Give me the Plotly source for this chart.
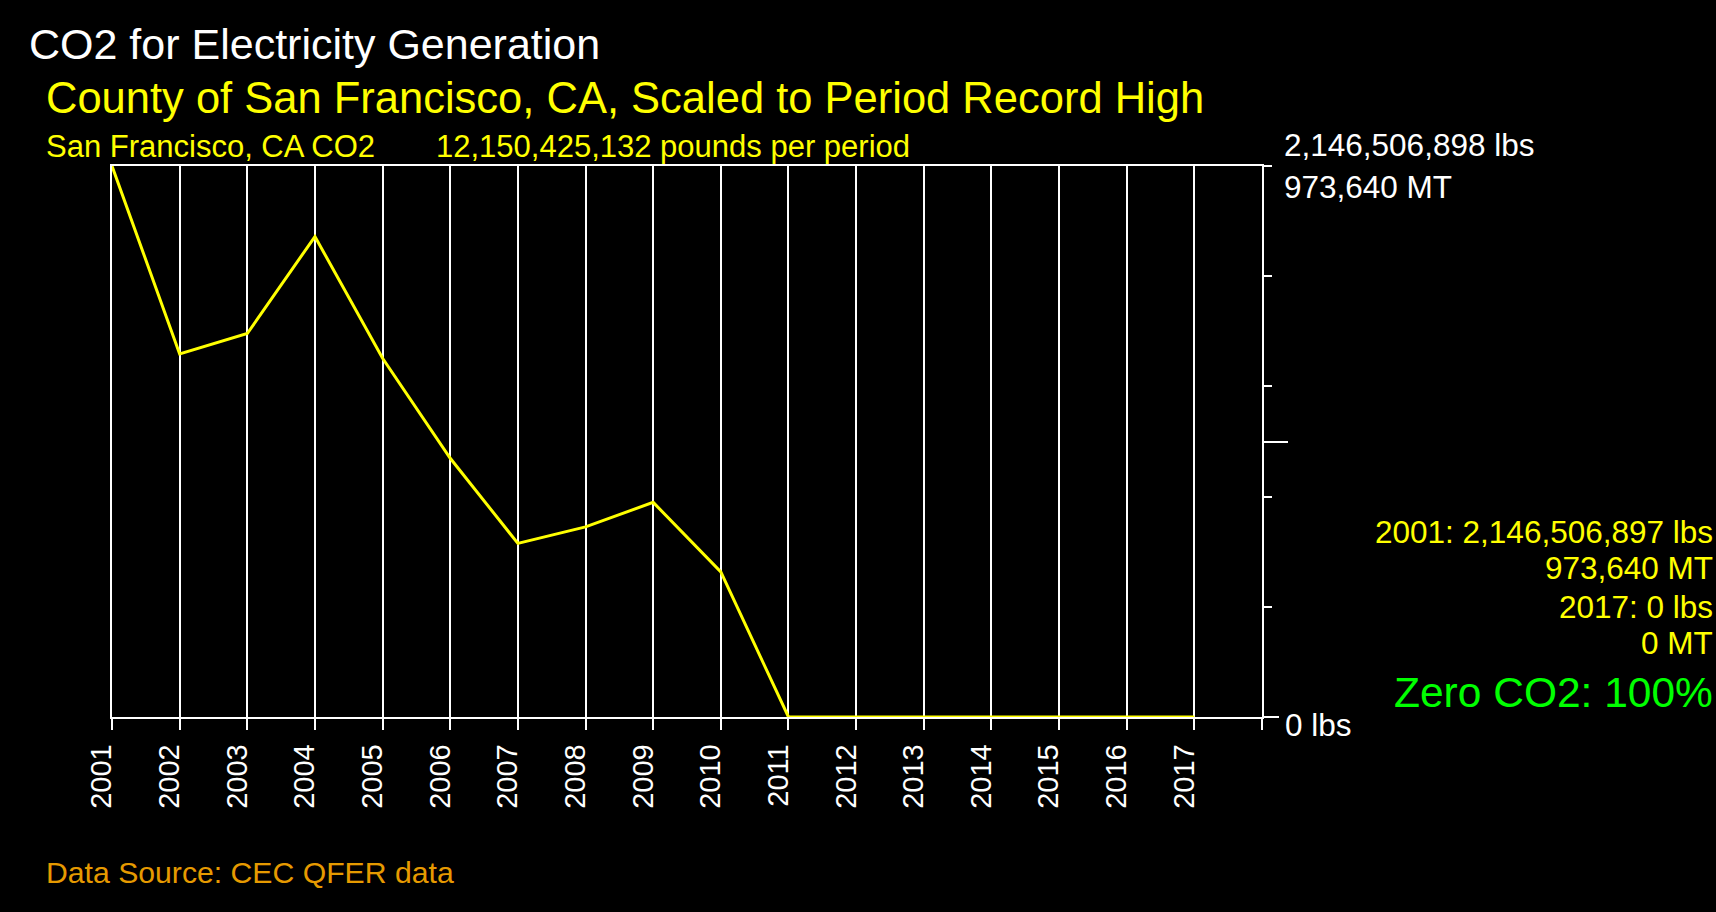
import plotly.graph_objects as go

# ---- data ----
years = list(range(2001, 2018))
co2_lbs = [2146506897, 1414500000, 1494000000, 1871800000, 1397400000,
           1007800000, 676200000, 740500000, 836300000, 565418235,
           0, 0, 0, 0, 0, 0, 0]
scale_max_lbs = 2146506898
minor_tick_fracs = [0.2, 0.4, 0.6, 0.8, 1.0]
mid_tick_frac = [0.5]
place = "San Francisco, CA"
county_title = "County of San Francisco, CA, Scaled to Period Record High"
LBS_PER_MT = 2204.62

W, H = 1716, 912
L, R, T, B = 112, 1716 - 1262, 166, 912 - 717
PW, PH = W - L - R, H - T - B
FONT = "Liberation Sans, Arial, sans-serif"


def px(xp):
    return (xp - L) / PW


def py(yp):
    return (H - B - yp) / PH


fig = go.Figure()
fig.add_trace(go.Scatter(x=years, y=co2_lbs, mode="lines",
                         line=dict(color="#ffff00", width=3),
                         hoverinfo="x+y", showlegend=False))

fig.update_layout(
    width=W, height=H,
    margin=dict(l=L, r=R, t=T, b=B, pad=0),
    paper_bgcolor="black", plot_bgcolor="black",
    font=dict(family=FONT, color="white"),
    showlegend=False,
    xaxis=dict(range=[years[0], years[-1] + 1],
               tickvals=years + [years[-1] + 1],
               ticktext=[str(y) for y in years] + [""],
               tickangle=-90, ticks="outside", ticklen=11, tickwidth=1.5,
               tickcolor="white", tickfont=dict(size=29, color="white", family=FONT),
               ticklabelstandoff=3, ticklabelshift=-10,
               showgrid=True, gridcolor="white", gridwidth=1.5,
               showline=True, linecolor="white", linewidth=1.5, mirror=True,
               zeroline=False),
    yaxis=dict(range=[0, scale_max_lbs], side="right",
               tickvals=[f * scale_max_lbs for f in minor_tick_fracs],
               ticks="outside", ticklen=8, tickwidth=1.5, tickcolor="white",
               showticklabels=False, showgrid=False, zeroline=False,
               showline=True, linecolor="white", linewidth=1.5, mirror=True),
    yaxis2=dict(range=[0, scale_max_lbs], side="right", overlaying="y",
                tickvals=[f * scale_max_lbs for f in mid_tick_frac],
                ticks="outside", ticklen=25, tickwidth=1.5, tickcolor="white",
                showticklabels=False, showgrid=False, zeroline=False, showline=False),
    yaxis3=dict(range=[0, scale_max_lbs], side="right", overlaying="y",
                tickvals=[0], ticks="outside", ticklen=16, tickwidth=1.5,
                tickcolor="white", showticklabels=False, showgrid=False,
                zeroline=False, showline=False),
)
# invisible traces so overlay axes are drawn
for ax in ("y2", "y3"):
    fig.add_trace(go.Scatter(x=[years[0]], y=[0], yaxis=ax, mode="markers",
                             marker=dict(opacity=0), hoverinfo="skip",
                             showlegend=False))

total = sum(co2_lbs)
first_mt = round(co2_lbs[0] / LBS_PER_MT)
last_mt = round(co2_lbs[-1] / LBS_PER_MT)
scale_mt = round(scale_max_lbs / LBS_PER_MT)
zero_pct = round(100 * (co2_lbs[0] - co2_lbs[-1]) / co2_lbs[0])

ann = [
    ("CO2 for Electricity Generation", 27, 44, 43, "white", "left"),
    (county_title, 44, 98, 43.5, "#ffff00", "left"),
    (f"{place} CO2", 44, 146, 31, "#ffff00", "left"),
    (f"{total:,} pounds per period", 434, 146, 31, "#ffff00", "left"),
    (f"{scale_max_lbs:,} lbs", 1282, 145, 31.5, "white", "left"),
    (f"{scale_mt:,} MT", 1282, 187, 31.5, "white", "left"),
    ("0 lbs", 1283, 725, 31.5, "white", "left"),
    (f"{years[0]}: {co2_lbs[0]:,} lbs", 1715, 532, 31.5, "#ffff00", "right"),
    (f"{first_mt:,} MT", 1715, 568, 31.5, "#ffff00", "right"),
    (f"{years[-1]}: {co2_lbs[-1]:,} lbs", 1715, 607, 31.5, "#ffff00", "right"),
    (f"{last_mt:,} MT", 1715, 643, 31.5, "#ffff00", "right"),
    (f"Zero CO2: {zero_pct}%", 1715, 692, 42.5, "#00ff00", "right"),
    ("Data Source: CEC QFER data", 44, 872, 30.2, "#e69a00", "left"),
]
for text, x, y, size, color, anchor in ann:
    fig.add_annotation(text=text, x=px(x), y=py(y), xref="paper", yref="paper",
                       xanchor=anchor, yanchor="middle", showarrow=False,
                       font=dict(size=size, color=color, family=FONT))

fig.write_html("out.html", config={"displayModeBar": False})

# make the page itself black with no body margin, as in the reference
with open("out.html", encoding="utf-8") as fh:
    html = fh.read()
html = html.replace("<body>", '<body style="margin:0;padding:0;background:black;overflow:hidden">', 1)
with open("out.html", "w", encoding="utf-8") as fh:
    fh.write(html)
